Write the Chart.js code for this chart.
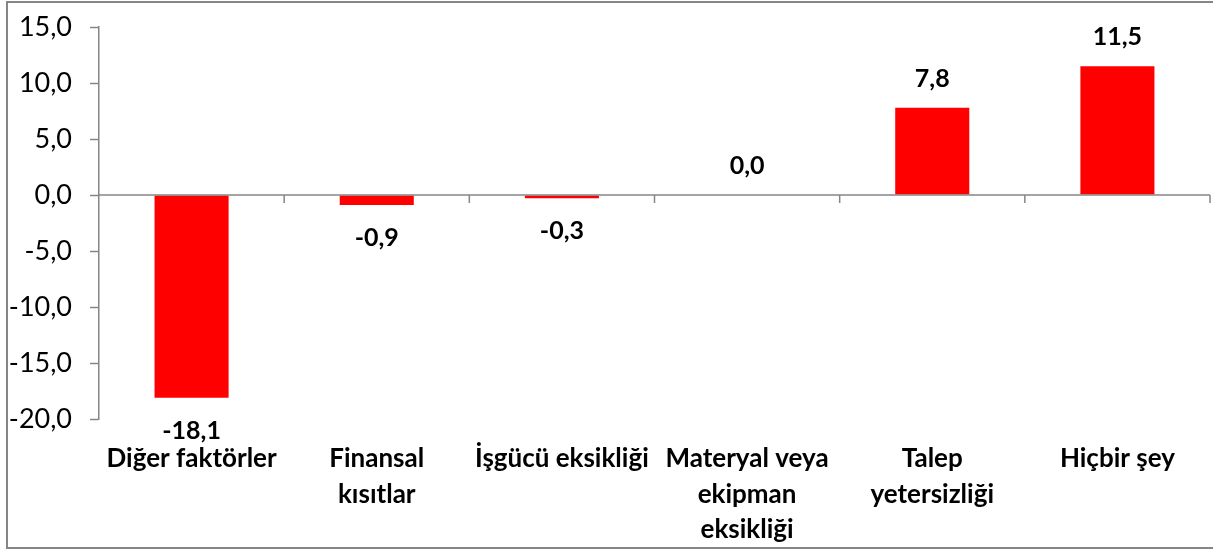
<!DOCTYPE html>
<html>
<head>
<meta charset="utf-8">
<script src="https://cdn.jsdelivr.net/npm/chart.js@4/dist/chart.umd.min.js"></script>
<style>
html,body{margin:0;padding:0;background:#fff;}
#wrap{position:relative;width:1213px;height:552px;}
</style>
</head>
<body>
<div id="wrap"><canvas id="c" width="1213" height="552"></canvas></div>
<script>
const categories = [
  'Diğer faktörler',
  ['Finansal', 'kısıtlar'],
  'İşgücü eksikliği',
  ['Materyal veya', 'ekipman', 'eksikliği'],
  ['Talep', 'yetersizliği'],
  'Hiçbir şey'
];
const values = [-18.1, -0.9, -0.3, 0.0, 7.8, 11.5];
const yMin = -20, yMax = 15, yStep = 5;

const FONT = 'Lato, "Noto Sans", sans-serif';
const AXIS_GRAY = '#868686';
const fmt = v => v.toFixed(1).replace('.', ',');

const decor = {
  id: 'decor',
  beforeDraw(chart) {
    const ctx = chart.ctx;
    ctx.save();
    ctx.fillStyle = '#fff';
    ctx.fillRect(0, 0, chart.width, chart.height);
    ctx.strokeStyle = AXIS_GRAY;
    ctx.lineWidth = 2;
    ctx.strokeRect(7, 2, chart.width + 10, 546);
    ctx.restore();
  },
  afterDatasetsDraw(chart) {
    const ctx = chart.ctx;
    const x = chart.scales.x, y = chart.scales.y;
    const y0 = y.getPixelForValue(0);
    ctx.save();
    ctx.strokeStyle = AXIS_GRAY;
    ctx.lineWidth = 1.5;
    ctx.beginPath();
    ctx.moveTo(chart.chartArea.left, y0);
    ctx.lineTo(chart.chartArea.right, y0);
    const n = categories.length;
    for (let i = 1; i <= n; i++) {
      const px = (x.getPixelForValue(i - 1) + (i < n ? x.getPixelForValue(i) : x.getPixelForValue(i - 1) * 2 - x.getPixelForValue(i - 2))) / 2;
      ctx.moveTo(px, y0);
      ctx.lineTo(px, y0 + 8);
    }
    ctx.stroke();
    // data labels
    ctx.fillStyle = '#000';
    ctx.font = 'bold 25px ' + FONT;
    ctx.textAlign = 'center';
    ctx.textBaseline = 'middle';
    const meta = chart.getDatasetMeta(0);
    meta.data.forEach((bar, i) => {
      const v = values[i];
      const ly = v >= 0 ? bar.y - 29 : bar.y + 33;
      ctx.fillText(fmt(v), bar.x, ly);
    });
    ctx.restore();
  }
};

new Chart(document.getElementById('c'), {
  type: 'bar',
  data: {
    labels: categories,
    datasets: [{
      data: values,
      backgroundColor: '#FF0000',
      borderWidth: 0,
      barPercentage: 0.4,
      categoryPercentage: 1.0
    }]
  },
  options: {
    responsive: false,
    animation: false,
    events: [],
    layout: { padding: { left: 0, right: 3, top: 27, bottom: 0 } },
    plugins: { legend: { display: false }, tooltip: { enabled: false } },
    scales: {
      x: {
        grid: { display: false },
        border: { display: false },
        ticks: {
          color: '#000',
          font: { family: FONT, size: 26, weight: 'bold', lineHeight: 1.37 },
          padding: 14,
          maxRotation: 0,
          autoSkip: false
        },
        afterFit(s) { s.height = 133; s.paddingLeft = 0; s.paddingRight = 0; }
      },
      y: {
        min: yMin, max: yMax,
        grid: { drawOnChartArea: false, drawTicks: true, tickLength: 9, tickColor: AXIS_GRAY, tickWidth: 1.5 },
        border: { display: true, color: AXIS_GRAY, width: 1.5 },
        ticks: {
          stepSize: yStep,
          color: '#000',
          font: { family: FONT, size: 27 },
          padding: 18,
          callback: v => fmt(v)
        },
        afterFit(s) { s.width = 99; s.paddingTop = 0; s.paddingBottom = 0; }
      }
    }
  },
  plugins: [decor]
});
</script>
</body>
</html>
